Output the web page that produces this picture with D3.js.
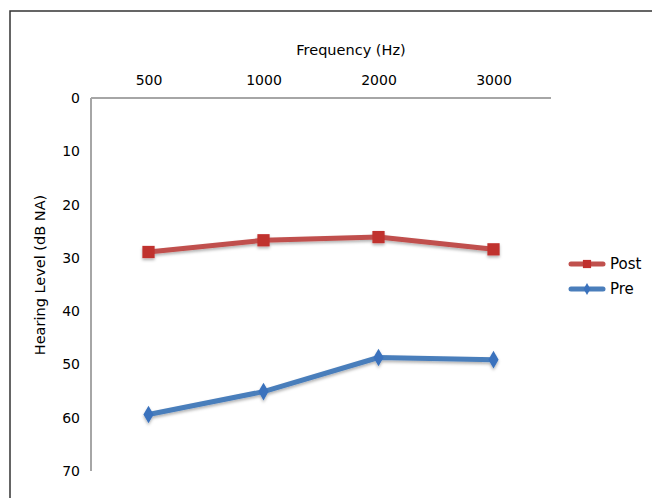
<!DOCTYPE html>
<html>
<head>
<meta charset="utf-8">
<title>Hearing Level</title>
<style type="text/css">
body { margin: 0; background: #fff; }
text { font-family: "DejaVu Sans", sans-serif; fill: #000; }
.axis path { stroke: #a6a6a6; stroke-width: 2px; }
.axis line { display: none; }
.line { fill: none; stroke-width: 5px; stroke-linejoin: round; }
</style>
<script src="https://cdn.jsdelivr.net/npm/d3@7"></script>
</head>
<body>
<svg width="652" height="498"></svg>
<script type="text/javascript">

var frequencies = ["500", "1000", "2000", "3000"];
var postValues = [28.9, 26.7, 26.1, 28.4];
var preValues = [59.4, 55.1, 48.7, 49.1];
var yTicks = [0, 10, 20, 30, 40, 50, 60, 70];

var svg = d3.select("svg"),
    margin = {top: 98, left: 91},
    width = 460,
    height = 373,
    g = svg.append("g").attr("transform", "translate(" + margin.left + "," + margin.top + ")");

// outer frame
svg.append("rect")
   .attr("x", 10).attr("y", 11)
   .attr("width", 700).attr("height", 600)
   .attr("fill", "none")
   .attr("stroke", "#333")
   .attr("stroke-width", 1.5);

var defs = svg.append("defs");
var f = defs.append("filter").attr("id", "shadow").attr("x", "-20%").attr("y", "-20%").attr("width", "140%").attr("height", "160%");
f.append("feDropShadow").attr("dx", 0).attr("dy", 2).attr("stdDeviation", 1.5)
 .attr("flood-color", "#000").attr("flood-opacity", 0.3);

var xScale = d3.scalePoint().domain(frequencies).range([0, width]).padding(0.5),
    yScale = d3.scaleLinear().domain([0, 70]).range([0, height]);

g.append("g")
  .attr("class", "axis axis--x")
  .call(d3.axisTop(xScale).tickSize(0).tickPadding(13))
  .call(function(a) { a.selectAll("text").attr("font-size", 14); });

g.append("g")
  .attr("class", "axis axis--y")
  .call(d3.axisLeft(yScale).tickValues(yTicks).tickSize(0).tickPadding(11))
  .call(function(a) { a.selectAll("text").attr("font-size", 14); });

g.selectAll(".domain").attr("d", function(d, i) {
  return i === 0 ? "M0,0H" + width : "M0,0V" + height;
});

g.append("text")
  .attr("x", 260).attr("y", -43)
  .attr("text-anchor", "middle")
  .attr("font-size", 14.5)
  .text("Frequency (Hz)");

g.append("text")
  .attr("transform", "translate(-46," + 177 + ") rotate(-90)")
  .attr("text-anchor", "middle")
  .attr("font-size", 14.5)
  .text("Hearing Level (dB NA)");

var series = [
  {name: "Post", values: postValues, line: "#c0504d", mark: "#c0302e", shape: d3.symbolSquare, size: 150},
  {name: "Pre", values: preValues, line: "#4a7ebb", mark: "#3a72bd", shape: d3.symbolDiamond, size: 90}
];

var line = d3.line()
  .x(function(d, i) { return xScale(frequencies[i]); })
  .y(function(d) { return yScale(d); });

series.forEach(function(s) {
  var sg = g.append("g").attr("filter", "url(#shadow)");
  sg.append("path")
    .datum(s.values)
    .attr("class", "line")
    .attr("stroke", s.line)
    .attr("d", line);
  sg.selectAll(".pt")
    .data(s.values)
    .enter().append("path")
    .attr("transform", function(d, i) { return "translate(" + xScale(frequencies[i]) + "," + yScale(d) + ")"; })
    .attr("fill", s.mark)
    .attr("d", d3.symbol().type(s.shape).size(s.size));
});

// legend
var legend = svg.append("g").attr("transform", "translate(571,264)");
series.forEach(function(s, i) {
  var lg = legend.append("g").attr("transform", "translate(0," + (i * 25) + ")");
  lg.append("line")
    .attr("x1", 0).attr("x2", 32)
    .attr("stroke", s.line).attr("stroke-width", 5).attr("stroke-linecap", "round");
  lg.append("path")
    .attr("transform", "translate(16,0)")
    .attr("fill", s.mark)
    .attr("d", d3.symbol().type(s.shape).size(s.size * 0.45));
  lg.append("text")
    .attr("x", 39).attr("y", 5)
    .attr("font-size", 15)
    .text(s.name);
});

</script>
</body>
</html>
